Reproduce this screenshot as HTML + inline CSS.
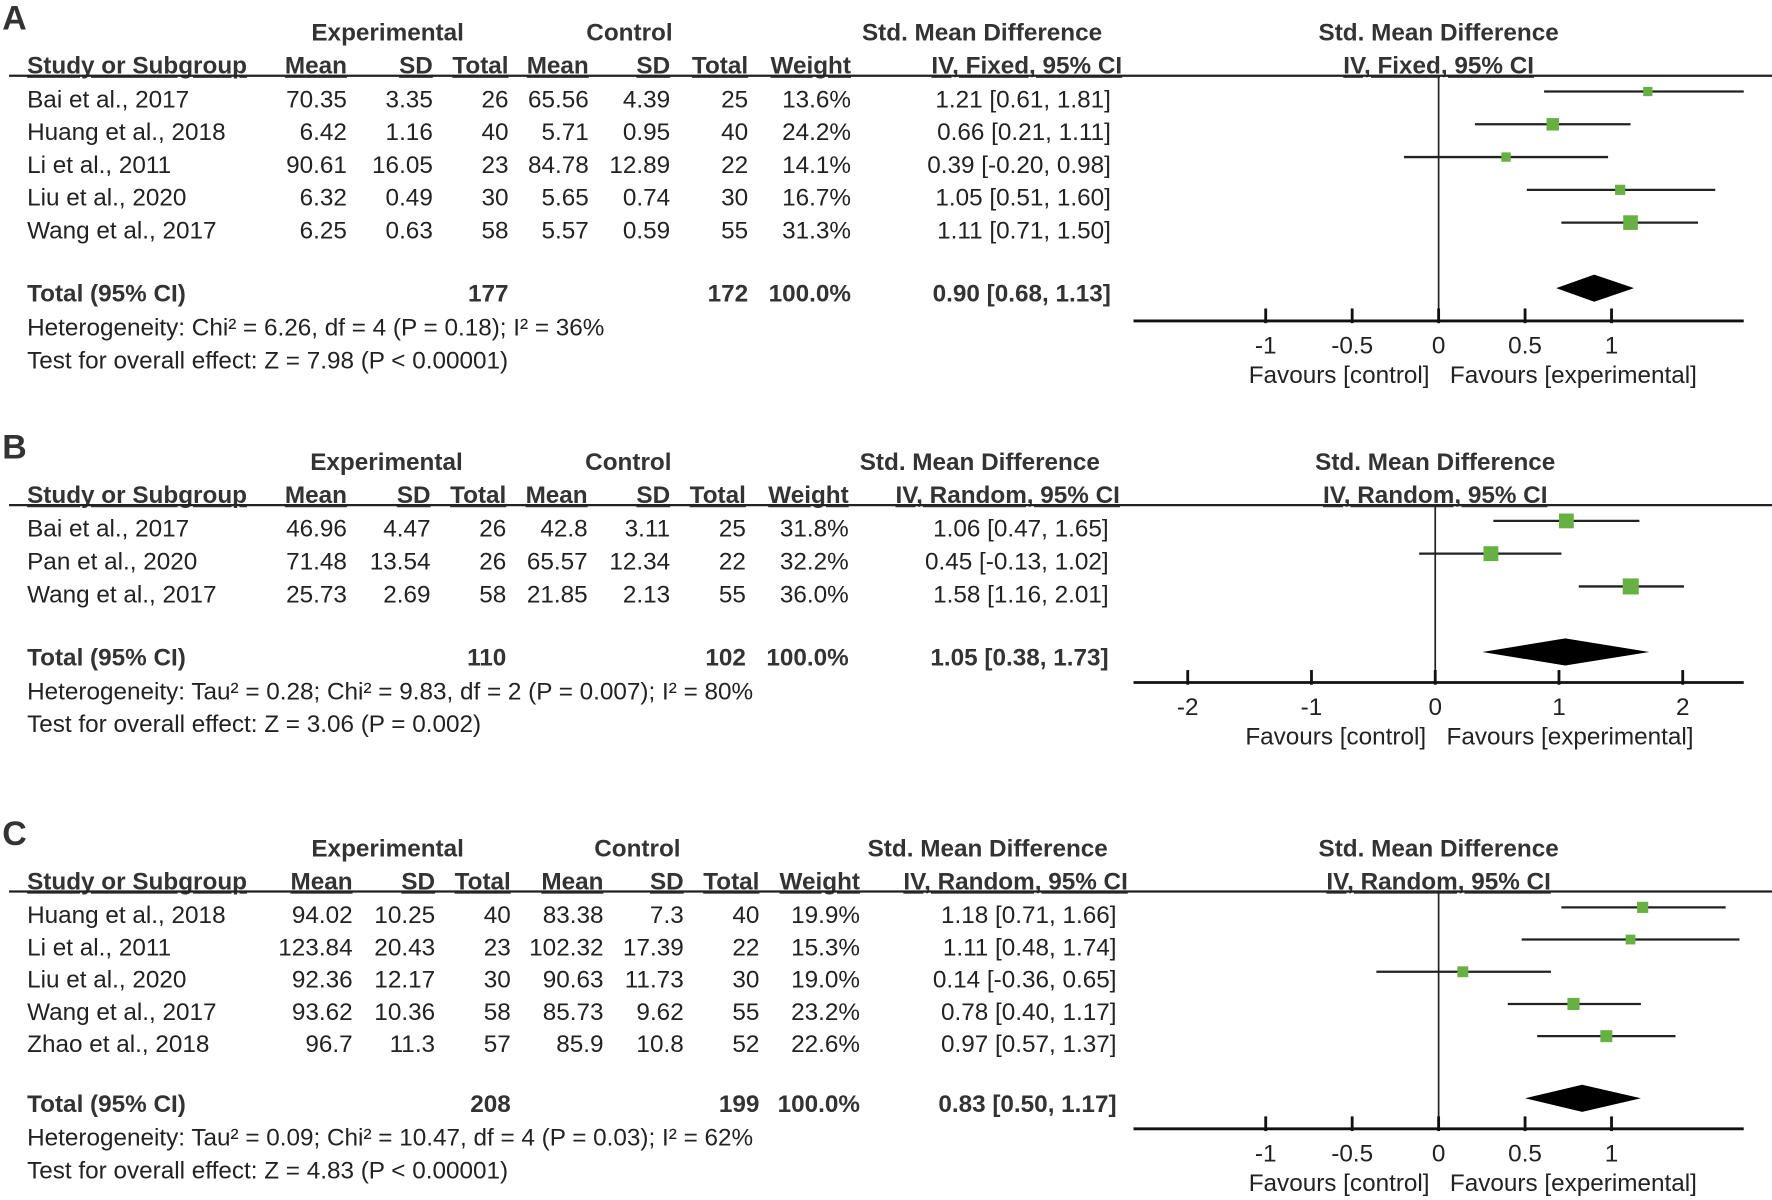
<!DOCTYPE html>
<html><head><meta charset="utf-8">
<style>
html,body{margin:0;padding:0;background:#fff;}
svg{display:block;}
text{font-family:"Liberation Sans Narrow","Liberation Sans",Arial,sans-serif;fill:#222;}
.b{font-weight:bold;fill:#333;}
.u{text-decoration:underline;}
</style></head>
<body>
<svg id="chart" width="1772" height="1200" viewBox="0 0 1568 1062" preserveAspectRatio="none" xmlns="http://www.w3.org/2000/svg"></svg>
<script>
// Panel A data
const studiesA = ["Bai et al., 2017","Huang et al., 2018","Li et al., 2011","Liu et al., 2020","Wang et al., 2017"];
const expMeanA = ["70.35","6.42","90.61","6.32","6.25"];
const expSdA = ["3.35","1.16","16.05","0.49","0.63"];
const expNA = ["26","40","23","30","58"];
const ctlMeanA = ["65.56","5.71","84.78","5.65","5.57"];
const ctlSdA = ["4.39","0.95","12.89","0.74","0.59"];
const ctlNA = ["25","40","22","30","55"];
const weightA = [13.6,24.2,14.1,16.7,31.3];
const estA = [1.21,0.66,0.39,1.05,1.11];
const loA = [0.61,0.21,-0.20,0.51,0.71];
const hiA = [1.81,1.11,0.98,1.60,1.50];
const totalA = [0.90,0.68,1.13];
const ticksA = [-1,-0.5,0,0.5,1];
// Panel B data
const studiesB = ["Bai et al., 2017","Pan et al., 2020","Wang et al., 2017"];
const expMeanB = ["46.96","71.48","25.73"];
const expSdB = ["4.47","13.54","2.69"];
const expNB = ["26","26","58"];
const ctlMeanB = ["42.8","65.57","21.85"];
const ctlSdB = ["3.11","12.34","2.13"];
const ctlNB = ["25","22","55"];
const weightB = [31.8,32.2,36.0];
const estB = [1.06,0.45,1.58];
const loB = [0.47,-0.13,1.16];
const hiB = [1.65,1.02,2.01];
const totalB = [1.05,0.38,1.73];
const ticksB = [-2,-1,0,1,2];
// Panel C data
const studiesC = ["Huang et al., 2018","Li et al., 2011","Liu et al., 2020","Wang et al., 2017","Zhao et al., 2018"];
const expMeanC = ["94.02","123.84","92.36","93.62","96.7"];
const expSdC = ["10.25","20.43","12.17","10.36","11.3"];
const expNC = ["40","23","30","58","57"];
const ctlMeanC = ["83.38","102.32","90.63","85.73","85.9"];
const ctlSdC = ["7.3","17.39","11.73","9.62","10.8"];
const ctlNC = ["40","22","30","55","52"];
const weightC = [19.9,15.3,19.0,23.2,22.6];
const estC = [1.18,1.11,0.14,0.78,0.97];
const loC = [0.71,0.48,-0.36,0.40,0.57];
const hiC = [1.66,1.74,0.65,1.17,1.37];
const totalC = [0.83,0.50,1.17];
const ticksC = [-1,-0.5,0,0.5,1];

const svg = document.getElementById('chart');
const NS = "http://www.w3.org/2000/svg";
const FS = 21.5;
function txt(x,y,s,anchor,cls,fs,name){
  const t=document.createElementNS(NS,'text');
  t.setAttribute('x',x);t.setAttribute('y',y);
  t.setAttribute('text-anchor',anchor||'start');
  t.setAttribute('font-size',fs||FS);
  if(cls) t.setAttribute('class',cls);
  t.textContent=s;
  
  
  svg.appendChild(t);return t;
}
function line(x1,y1,x2,y2,w,col,name){
  const l=document.createElementNS(NS,'line');
  l.setAttribute('x1',x1);l.setAttribute('y1',y1);l.setAttribute('x2',x2);l.setAttribute('y2',y2);
  l.setAttribute('stroke',col||'#111');l.setAttribute('stroke-width',w||2);
  
  
  svg.appendChild(l);return l;
}
function fmt(v){return v.toFixed(2);}

function panel(p){
  const o=p.top;
  txt(2,o-10,p.letter,'start','b',30,'panel-label-'+p.letter);
  const c=p.cols;
  txt(p.hx[0],o,'Experimental','middle','b',FS,'experimental-header');
  txt(p.hx[1],o,'Control','middle','b',FS,'control-header');
  txt(p.hx[2],o,'Std. Mean Difference','middle','b',FS,'effect-header');
  txt(p.zero,o,'Std. Mean Difference','middle','b',FS,'plot-header');
  const h2=o+29;
  txt(24,h2,'Study or Subgroup','start','b u',FS,'study-column-header');
  [['Mean',c.m1],['SD',c.s1],['Total',c.t1],['Mean',c.m2],['SD',c.s2],['Total',c.t2],['Weight',c.w]].forEach(a=>txt(a[1],h2,a[0],'end','b u',FS,'column-header'));
  txt(c.ci+10,h2,'IV, '+p.method+', 95% CI','end','b u',FS,'ci-column-header');
  txt(p.zero,h2,'IV, '+p.method+', 95% CI','middle','b u',FS,'plot-subheader');
  const ly=h2+2;
  line(8,ly,1568,ly,2,'#222','header-rule');
  const sc=v=>p.zero+v*p.unit;
  const axY=p.axisY;
  line(p.zero,ly,p.zero,axY,1.5,'#222','zero-line');
  p.studies.forEach((s,i)=>{
    const y=ly+14+i*p.rowH;
    const tb=y+14;
    txt(24,tb,s,'start','',FS,'study-name');
    txt(c.m1,tb,p.em[i],'end','',FS,'exp-mean');
    txt(c.s1,tb,p.es[i],'end','',FS,'exp-sd');
    txt(c.t1,tb,p.en[i],'end','',FS,'exp-total');
    txt(c.m2,tb,p.cm[i],'end','',FS,'ctl-mean');
    txt(c.s2,tb,p.cs[i],'end','',FS,'ctl-sd');
    txt(c.t2,tb,p.cn[i],'end','',FS,'ctl-total');
    txt(c.w,tb,p.w[i].toFixed(1)+'%','end','',FS,'weight');
    txt(c.ci,tb,fmt(p.est[i])+' ['+fmt(p.lo[i])+', '+fmt(p.hi[i])+']','end','',FS,'ci-value');
    const x1=Math.max(sc(p.lo[i]),1003), x2=Math.min(sc(p.hi[i]),1543);
    line(x1,y,x2,y,2,'#222','ci-line');
    const sz=4.5+0.27*p.w[i];
    const r=document.createElementNS(NS,'rect');
    r.setAttribute('x',sc(p.est[i])-sz/2);r.setAttribute('y',y-sz/2);
    r.setAttribute('width',sz);r.setAttribute('height',sz);r.setAttribute('fill','#66b044');
    
    
    svg.appendChild(r);
  });
  const ty=p.totalY;
  txt(24,ty+9,'Total (95% CI)','start','b',FS,'total-label');
  txt(c.t1,ty+9,p.totN[0],'end','b',FS,'total-exp');
  txt(c.t2,ty+9,p.totN[1],'end','b',FS,'total-ctl');
  txt(c.w,ty+9,'100.0%','end','b',FS,'total-weight');
  txt(c.ci,ty+9,fmt(p.tot[0])+' ['+fmt(p.tot[1])+', '+fmt(p.tot[2])+']','end','b',FS,'total-ci');
  const dy=ty-3;
  const d=document.createElementNS(NS,'polygon');
  d.setAttribute('points',`${sc(p.tot[1])},${dy} ${sc(p.tot[0])},${dy-12} ${sc(p.tot[2])},${dy} ${sc(p.tot[0])},${dy+12}`);
  d.setAttribute('fill','#000');
  
  
  svg.appendChild(d);
  txt(24,ty+39,p.het,'start','',FS,'heterogeneity-text');
  txt(24,ty+68,p.test,'start','',FS,'overall-effect-text');
  line(1003,axY,1543,axY,2.5,'#111','x-axis');
  p.ticks.forEach(t=>{
    line(sc(t),axY-11,sc(t),axY+2,2.5,'#111','x-tick');
    txt(sc(t),axY+29,String(t),'middle','',FS,'x-tick-label');
  });
  txt(p.zero-8,axY+55,'Favours [control]','end','',FS,'favours-control');
  txt(p.zero+10,axY+55,'Favours [experimental]','start','',FS,'favours-experimental');
}

panel({letter:'A',top:36,hx:[343,557,869],method:'Fixed',zero:1273,unit:153,axisY:284,rowH:29,totalY:258,
 cols:{m1:307,s1:383,t1:450,m2:521,s2:593,t2:662,w:753,ci:983},
 studies:studiesA,em:expMeanA,es:expSdA,en:expNA,cm:ctlMeanA,cs:ctlSdA,cn:ctlNA,w:weightA,est:estA,lo:loA,hi:hiA,
 tot:totalA,totN:['177','172'],ticks:ticksA,
 het:'Heterogeneity: Chi² = 6.26, df = 4 (P = 0.18); I² = 36%',test:'Test for overall effect: Z = 7.98 (P < 0.00001)'});
panel({letter:'B',top:416,hx:[342,556,867],method:'Random',zero:1270,unit:109.5,axisY:604,rowH:29,totalY:580,
 cols:{m1:307,s1:381,t1:448,m2:520,s2:593,t2:660,w:751,ci:981},
 studies:studiesB,em:expMeanB,es:expSdB,en:expNB,cm:ctlMeanB,cs:ctlSdB,cn:ctlNB,w:weightB,est:estB,lo:loB,hi:hiB,
 tot:totalB,totN:['110','102'],ticks:ticksB,
 het:'Heterogeneity: Tau² = 0.28; Chi² = 9.83, df = 2 (P = 0.007); I² = 80%',test:'Test for overall effect: Z = 3.06 (P = 0.002)'});
panel({letter:'C',top:758,hx:[343,564,874],method:'Random',zero:1273,unit:153,axisY:999,rowH:28.5,totalY:975,
 cols:{m1:312,s1:385,t1:452,m2:534,s2:605,t2:672,w:761,ci:988},
 studies:studiesC,em:expMeanC,es:expSdC,en:expNC,cm:ctlMeanC,cs:ctlSdC,cn:ctlNC,w:weightC,est:estC,lo:loC,hi:hiC,
 tot:totalC,totN:['208','199'],ticks:ticksC,
 het:'Heterogeneity: Tau² = 0.09; Chi² = 10.47, df = 4 (P = 0.03); I² = 62%',test:'Test for overall effect: Z = 4.83 (P < 0.00001)'});
</script>
</body></html>
